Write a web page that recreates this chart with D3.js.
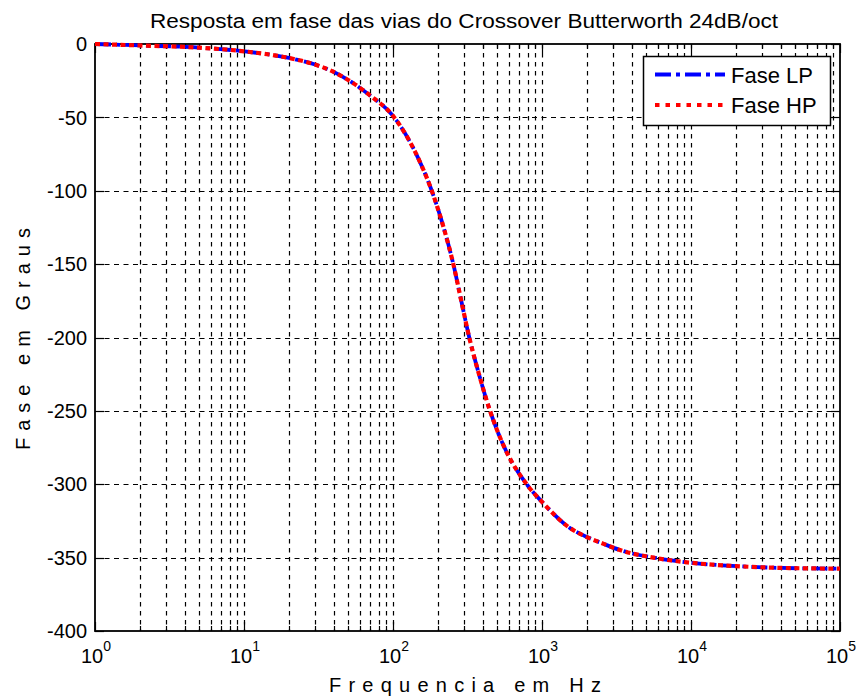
<!DOCTYPE html>
<html>
<head>
<meta charset="utf-8">
<script src="https://cdn.jsdelivr.net/npm/d3@7"></script>
<style>
  html, body { margin: 0; padding: 0; background: #fff; }
  svg { display: block; font-family: "Liberation Sans", Arial, sans-serif; }
</style>
</head>
<body>
<svg id="chart" width="859" height="700"></svg>
<script>
// Phase response of the two crossover ways (frequency in Hz, phase in degrees)
const freqs   = [1, 2, 5, 10, 20, 30, 40, 50, 70, 100, 140, 182, 220, 254, 290, 325, 380, 448, 560, 789,
                 1000, 1500, 2000, 2500, 3500, 5600, 10000, 22000, 40000, 100000];
const phaseLP = [0, -1, -2.5, -5, -9.5, -14, -19, -24.5, -35, -49, -73, -100, -126, -150, -177, -200, -226, -250, -275, -300,
                 -312, -329, -336, -340, -345.5, -350, -353.5, -356, -357, -357.5];
const phaseHP = [0, -1, -2.5, -5, -9.5, -14, -19, -24.5, -35, -49, -73, -100, -126, -150, -177, -200, -226, -250, -275, -300,
                 -312, -329, -336, -340, -345.5, -350, -353.5, -356, -357, -357.5];

const yTicks = [0, -50, -100, -150, -200, -250, -300, -350, -400];
const xDecades = [1, 10, 100, 1000, 10000, 100000];
const xExponents = ["0", "1", "2", "3", "4", "5"];
const seriesNames = ["Fase LP", "Fase HP"];

const titleText = "Resposta em fase das vias do Crossover Butterworth 24dB/oct";
const xLabel = "Frequencia em Hz";
const yLabel = "Fase em Graus";

const svg = d3.select("#chart");
const L = 95, R = 840, T = 44, B = 631;

const x = d3.scaleLog().domain([1, 100000]).range([L, R]);
const y = d3.scaleLinear().domain([-400, 0]).range([B, T]);

// Minor frequencies 2..9 in every decade
const minorFreqs = [];
xDecades.slice(0, -1).forEach(d => { for (let k = 2; k <= 9; k++) minorFreqs.push(d * k); });

// White plot area
svg.append("rect").attr("x", L).attr("y", T).attr("width", R - L).attr("height", B - T).attr("fill", "#fff");

// Grid
const grid = svg.append("g").attr("stroke", "#000").attr("stroke-width", 1.2).attr("fill", "none");
grid.selectAll("line.vx")
  .data(minorFreqs.concat(xDecades.slice(1, -1)))
  .join("line")
  .attr("x1", d => Math.round(x(d)) + 0.5).attr("x2", d => Math.round(x(d)) + 0.5)
  .attr("y1", T).attr("y2", B)
  .attr("stroke-dasharray", "4.5,4.5");
grid.selectAll("line.hy")
  .data(yTicks.slice(1, -1))
  .join("line")
  .attr("class", "hy")
  .attr("y1", d => Math.round(y(d)) + 0.5).attr("y2", d => Math.round(y(d)) + 0.5)
  .attr("x1", L).attr("x2", R)
  .attr("stroke-dasharray", "5,4.5");

// Tick marks pointing inward on all four sides
const ticks = svg.append("g").attr("stroke", "#000").attr("stroke-width", 1.2);
const major = 9, minor = 5;
xDecades.forEach(d => {
  const px = Math.round(x(d)) + 0.5;
  ticks.append("line").attr("x1", px).attr("x2", px).attr("y1", B).attr("y2", B - major);
  ticks.append("line").attr("x1", px).attr("x2", px).attr("y1", T).attr("y2", T + major);
});
minorFreqs.forEach(d => {
  const px = Math.round(x(d)) + 0.5;
  ticks.append("line").attr("x1", px).attr("x2", px).attr("y1", B).attr("y2", B - minor);
  ticks.append("line").attr("x1", px).attr("x2", px).attr("y1", T).attr("y2", T + minor);
});
yTicks.forEach(v => {
  const py = Math.round(y(v)) + 0.5;
  ticks.append("line").attr("x1", L).attr("x2", L + major).attr("y1", py).attr("y2", py);
  ticks.append("line").attr("x1", R).attr("x2", R - major).attr("y1", py).attr("y2", py);
});

// Frame
svg.append("rect").attr("x", L).attr("y", T).attr("width", R - L).attr("height", B - T)
  .attr("fill", "none").attr("stroke", "#000").attr("stroke-width", 1.8);

// Y tick labels
svg.append("g").selectAll("text")
  .data(yTicks)
  .join("text")
  .attr("x", 87).attr("y", d => y(d)).attr("dy", "0.36em")
  .attr("text-anchor", "end").attr("font-size", 20).attr("fill", "#000")
  .text(d => d);

// X tick labels as powers of ten
const xl = svg.append("g").selectAll("text")
  .data(xDecades)
  .join("text")
  .attr("x", d => x(d) + 1).attr("y", 663)
  .attr("text-anchor", "middle").attr("fill", "#000");
xl.append("tspan").attr("font-size", 20).text("10");
xl.append("tspan").attr("font-size", 14).attr("dy", -12).text((d, i) => xExponents[i]);

// Curves
const line = d3.line()
  .x(d => x(d[0]))
  .y(d => y(d[1]))
  .curve(d3.curveMonotoneX);

const lpDash = "16,5,4,5", hpDash = "5,3.5";

svg.append("path")
  .datum(freqs.map((f, i) => [f, phaseLP[i]]))
  .attr("d", line).attr("fill", "none")
  .attr("stroke", "#0000ff").attr("stroke-width", 3.8)
  .attr("stroke-dasharray", lpDash);

svg.append("path")
  .datum(freqs.map((f, i) => [f, phaseHP[i]]))
  .attr("d", line).attr("fill", "none")
  .attr("stroke", "#ff0000").attr("stroke-width", 4.2)
  .attr("stroke-dasharray", hpDash);

// Legend
const lg = svg.append("g");
lg.append("rect").attr("x", 643.5).attr("y", 56.5).attr("width", 187).attr("height", 69)
  .attr("fill", "#fff").attr("stroke", "#000").attr("stroke-width", 1.5);
const legendStyles = [
  { color: "#0000ff", dash: lpDash, width: 3.8, y: 74.5 },
  { color: "#ff0000", dash: "4.5,6", width: 4, y: 105 }
];
legendStyles.forEach((s, i) => {
  lg.append("line").attr("x1", 655).attr("x2", 725).attr("y1", s.y).attr("y2", s.y)
    .attr("stroke", s.color).attr("stroke-width", s.width).attr("stroke-dasharray", s.dash);
  lg.append("text").attr("x", 731).attr("y", s.y + 8)
    .attr("font-size", 22).attr("fill", "#000").text(seriesNames[i]);
});

// Title and axis labels
svg.append("text").attr("x", 464).attr("y", 28)
  .attr("text-anchor", "middle").attr("font-size", 20).attr("fill", "#000")
  .attr("textLength", 628).attr("lengthAdjust", "spacingAndGlyphs")
  .text(titleText);

svg.append("text").attr("x", 465).attr("y", 692)
  .attr("text-anchor", "middle").attr("font-size", 20).attr("fill", "#000")
  .attr("textLength", 272).attr("lengthAdjust", "spacing")
  .text(xLabel);

svg.append("text").attr("transform", "translate(30,339) rotate(-90)")
  .attr("text-anchor", "middle").attr("font-size", 20).attr("fill", "#000")
  .attr("textLength", 222).attr("lengthAdjust", "spacing")
  .text(yLabel);
</script>
</body>
</html>
